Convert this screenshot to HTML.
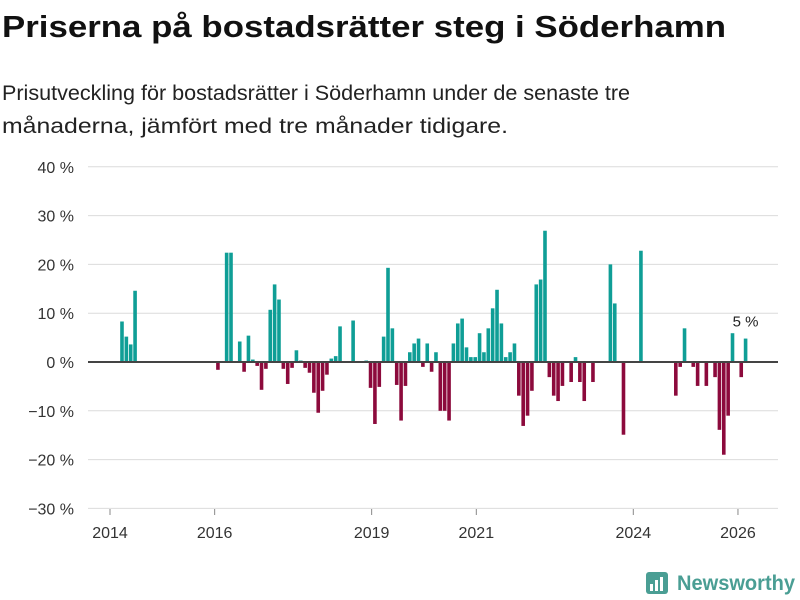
<!DOCTYPE html>
<html><head><meta charset="utf-8">
<style>
html,body{margin:0;padding:0;background:#fff;width:800px;height:600px;overflow:hidden}
svg{display:block;font-family:"Liberation Sans",sans-serif}
</style></head>
<body>
<svg id="chart" width="800" height="600" viewBox="0 0 800 600">
<text x="2" y="37" font-size="31" font-weight="bold" fill="#111" textLength="724" lengthAdjust="spacingAndGlyphs">Priserna på bostadsrätter steg i Söderhamn</text>
<text x="2" y="100" font-size="21" fill="#222" textLength="628" lengthAdjust="spacingAndGlyphs">Prisutveckling för bostadsrätter i Söderhamn under de senaste tre</text>
<text x="2" y="133" font-size="21" fill="#222" textLength="506" lengthAdjust="spacingAndGlyphs">månaderna, jämfört med tre månader tidigare.</text>
<g id="grid"></g><g id="bars"></g><g id="axes"></g>
<g>
<rect x="646" y="572" width="22" height="22" rx="3" fill="#4a9e94"/>
<rect x="650" y="584" width="3" height="7" fill="#fff"/><rect x="655" y="580" width="3" height="11" fill="#fff"/><rect x="660" y="577" width="3" height="14" fill="#fff"/>
<text x="677" y="590" font-size="21" font-weight="bold" fill="#4a9e94" textLength="118" lengthAdjust="spacingAndGlyphs">Newsworthy</text>
</g>
</svg>
<script>
const months = ["2014-03","2014-04","2014-05","2014-06","2016-01","2016-03","2016-04","2016-06","2016-07","2016-08","2016-09","2016-10","2016-11","2016-12","2017-01","2017-02","2017-03","2017-04","2017-05","2017-06","2017-07","2017-08","2017-09","2017-10","2017-11","2017-12","2018-01","2018-02","2018-03","2018-04","2018-05","2018-08","2018-11","2018-12","2019-01","2019-02","2019-03","2019-04","2019-05","2019-06","2019-07","2019-08","2019-09","2019-10","2019-11","2019-12","2020-01","2020-02","2020-03","2020-04","2020-05","2020-06","2020-07","2020-08","2020-09","2020-10","2020-11","2020-12","2021-01","2021-02","2021-03","2021-04","2021-05","2021-06","2021-07","2021-08","2021-09","2021-10","2021-11","2021-12","2022-01","2022-02","2022-03","2022-04","2022-05","2022-06","2022-07","2022-08","2022-10","2022-11","2022-12","2023-01","2023-03","2023-07","2023-08","2023-10","2024-02","2024-10","2024-11","2024-12","2025-02","2025-03","2025-05","2025-07","2025-08","2025-09","2025-10","2025-11","2026-01","2026-02"];
const values = [8.3,5.2,3.6,14.6,-1.6,22.4,22.4,4.2,-2.0,5.4,0.5,-0.8,-5.7,-1.4,10.7,15.9,12.8,-1.4,-4.5,-1.2,2.4,0.3,-1.2,-2.2,-6.3,-10.4,-5.9,-2.6,0.7,1.2,7.3,8.5,0.3,-5.3,-12.7,-5.1,5.2,19.3,6.9,-4.7,-12.0,-4.9,2.0,3.8,4.8,-1.0,3.8,-2.0,2.0,-10.0,-10.0,-12.0,3.8,7.9,8.9,3.0,1.0,1.0,5.9,2.0,6.9,11.0,14.8,7.9,1.0,2.0,3.8,-6.9,-13.1,-11.0,-5.9,15.9,16.9,26.9,-3.1,-6.9,-8.0,-4.9,-4.1,1.0,-4.1,-8.0,-4.1,20.0,12.0,-14.9,22.8,-6.9,-1.0,6.9,-1.0,-4.9,-4.9,-3.1,-13.9,-19.0,-11.0,5.9,-3.1,4.8];
const yTicks = [40,30,20,10,0,-10,-20,-30];
const yTickLabels = ["40 %","30 %","20 %","10 %","0 %","−10 %","−20 %","−30 %"];
const xTickYears = [2014,2016,2019,2021,2024,2026];
const xTickLabels = ["2014","2016","2019","2021","2024","2026"];

const NS="http://www.w3.org/2000/svg";
const X0=110, PER_MONTH=52.33/12, Y0=362, PER_PCT=4.88, LEFT=88, RIGHT=778;
function yScale(v){return Y0 - v*PER_PCT;}
function xYear(y){return X0 + (y-2014)*12*PER_MONTH;}
function xMonth(s){const [yy,mm]=s.split("-").map(Number);return X0 + ((yy-2014)*12 + (mm-1) + 0.75)*PER_MONTH;}
function mk(tag,attrs,parent){const e=document.createElementNS(NS,tag);for(const k in attrs)e.setAttribute(k,attrs[k]);parent.appendChild(e);return e;}

const grid=document.getElementById("grid"), bars=document.getElementById("bars"), axes=document.getElementById("axes");
yTicks.forEach((t,i)=>{
  const y=yScale(t);
  if(t!==0){const l=mk("line",{x1:LEFT,x2:RIGHT,y1:y,y2:y,stroke:"#dcdcdc","stroke-width":1},grid);
  
  }
  const tx=mk("text",{x:74,y:y+6,"font-size":16,fill:"#333","text-anchor":"end"},axes);
  tx.textContent=yTickLabels[i];
  
  
});
months.forEach((m,i)=>{
  const v=values[i], cx=xMonth(m), y=yScale(v), z=yScale(0);
  const r=mk("rect",{x:cx-1.8,width:3.6,y:Math.min(y,z),height:Math.abs(z-y),fill:v>=0?"#0f9e96":"#8c0a3c"},bars);
  
  
});
const zl=mk("line",{x1:LEFT,x2:RIGHT,y1:yScale(0),y2:yScale(0),stroke:"#444","stroke-width":2},axes);


xTickYears.forEach((yr,i)=>{
  const x=xYear(yr);
  const tk=mk("line",{x1:x,x2:x,y1:509,y2:515,stroke:"#888","stroke-width":1},axes);
  
  
  const tx=mk("text",{x:x,y:538,"font-size":16,fill:"#333","text-anchor":"middle"},axes);
  tx.textContent=xTickLabels[i];
  
  
});
const li=months.length-1;
const ann=mk("text",{x:xMonth(months[li]),y:yScale(values[li])-12,"font-size":15,fill:"#222","text-anchor":"middle"},axes);
ann.textContent=Math.round(values[li])+" %";


</script>
</body></html>
